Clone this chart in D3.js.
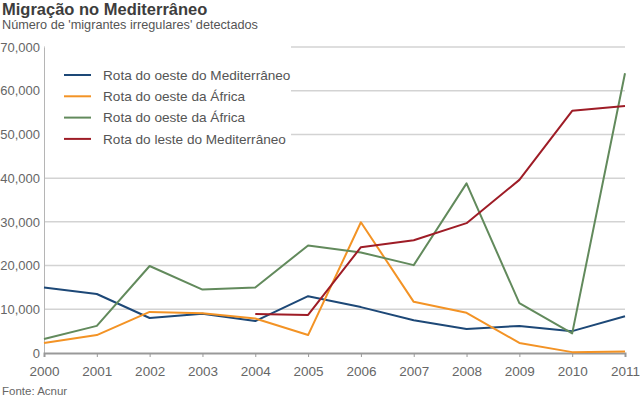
<!DOCTYPE html>
<html>
<head>
<meta charset="utf-8">
<script src="https://cdn.jsdelivr.net/npm/d3@7"></script>
<style>
  body { margin: 0; background: #fff; }
  svg { display: block; font-family: "Liberation Sans", Arial, sans-serif; }
</style>
</head>
<body>
<script>
(function () {

    var w = 640;
    var h = 401;

    var years = [2000, 2001, 2002, 2003, 2004, 2005, 2006, 2007, 2008, 2009, 2010, 2011];
    var yTicks = [0, 10000, 20000, 30000, 40000, 50000, 60000, 70000];
    var seriesNames = ["Rota do oeste do Mediterrâneo", "Rota do oeste da África",
                       "Rota do oeste da África", "Rota do leste do Mediterrâneo"];
    var seriesColors = ["#1d4877", "#f39325", "#628a5c", "#9e1c26"];

    // values per year, null = no data
    var westMed = [15000, 13500, 8000, 9000, 7300, 13000, 10500, 7500, 5500, 6200, 5000, 8400];
    var westAfrica = [2300, 4100, 9400, 9100, 7900, 4100, 29900, 11700, 9200, 2300, 200, 340];
    var centralMed = [3200, 6200, 19900, 14500, 15000, 24600, 23000, 20100, 38800, 11400, 4500, 64000];
    var eastMed = [null, null, null, null, 8900, 8700, 24200, 25800, 29700, 39600, 55400, 56500];

    var seriesValues = [westMed, westAfrica, centralMed, eastMed];

    var margin = { left: 44, right: 15, top: 47, bottom: 48 };

    // no d3-selection-multi here, so a tiny stand-in for .attrs()
    function attrs(sel, obj) {
        Object.keys(obj).forEach(function (k) { sel.attr(k, obj[k]); });
        return sel;
    }

    var svg = d3.select("body").append("svg")
        .attr("width", w)
        .attr("height", h);

    var x = d3.scaleLinear()
        .domain([2000, 2011])
        .range([margin.left, w - margin.right]);

    var y = d3.scaleLinear()
        .domain([0, 70000])
        .range([h - margin.bottom, margin.top]);

    // title
    attrs(svg.append("text").text("Migração no Mediterrâneo"),
        { x: 2, y: 15, "font-size": 16.5, "font-weight": "bold", fill: "#3d3d3d" });
    attrs(svg.append("text").text("Número de 'migrantes irregulares' detectados"),
        { x: 2, y: 29, "font-size": 12.7, fill: "#555" });

    // gridlines
    attrs(svg.append("g")
        .selectAll("line")
        .data(yTicks.filter(function (d) { return d > 0; }))
        .enter()
        .append("line"), {
            x1: margin.left,
            x2: w - margin.right,
            y1: function (d) { return y(d); },
            y2: function (d) { return y(d); },
            stroke: "#d3d3d3",
            "stroke-width": 1.5
        });

    // y axis
    var yAxis = svg.append("g")
        .attr("transform", "translate(" + margin.left + ",0)")
        .call(d3.axisLeft(y).tickValues(yTicks).tickSize(0).tickPadding(4)
            .tickFormat(function (d) { return d === 0 ? "0" : d3.format(",")(d); }));
    attrs(yAxis.select(".domain"), { stroke: "#b5b5b5", "stroke-width": 1 });
    attrs(yAxis.selectAll("text"), { "font-size": 13, fill: "#666", "font-family": null });

    // x axis
    var xAxis = svg.append("g")
        .attr("transform", "translate(0," + y(0) + ")")
        .call(d3.axisBottom(x).tickValues(years).tickSize(4).tickPadding(9)
            .tickFormat(d3.format("d")));
    attrs(xAxis.select(".domain"), { stroke: "#999", "stroke-width": 2 });
    attrs(xAxis.selectAll(".tick line"), { stroke: "#999", "stroke-width": 1 });
    attrs(xAxis.selectAll("text"), { "font-size": 13.5, fill: "#666", "font-family": null });

    // legend box covering gridlines
    attrs(svg.append("rect"),
        { x: margin.left + 1, y: margin.top - 2, width: 246, height: 104, fill: "#fff" });

    // lines
    var line = d3.line()
        .defined(function (d) { return d != null; })
        .x(function (d, i) { return x(years[i]); })
        .y(function (d) { return y(d); });

    attrs(svg.append("g")
        .selectAll("path")
        .data(seriesValues)
        .enter()
        .append("path"), {
            d: function (d) { return line(d); },
            fill: "none",
            stroke: function (d, i) { return seriesColors[i]; },
            "stroke-width": 2,
            "stroke-linejoin": "round"
        });

    // legend
    var legend = svg.append("g")
        .selectAll("g")
        .data(seriesNames)
        .enter()
        .append("g")
        .attr("transform", function (d, i) { return "translate(64," + (75 + i * 21.3) + ")"; });
    attrs(legend.append("line"),
        { x1: 0, x2: 27, y1: 0, y2: 0, stroke: function (d, i) { return seriesColors[i]; }, "stroke-width": 2 });
    attrs(legend.append("text").text(function (d) { return d; }),
        { x: 39, y: 4.8, "font-size": 13.6, fill: "#555" });

    // source
    attrs(svg.append("text").text("Fonte: Acnur"),
        { x: 2, y: 395, "font-size": 11.5, fill: "#666" });
})();
</script>
</body>
</html>
